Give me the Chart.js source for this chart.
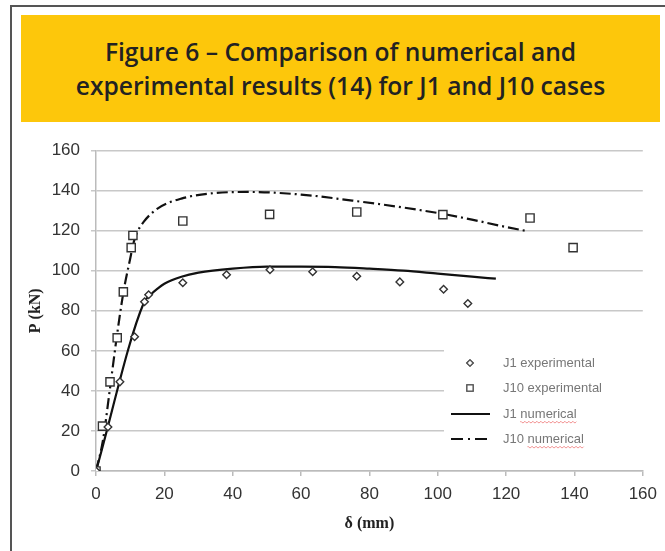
<!DOCTYPE html>
<html>
<head>
<meta charset="utf-8">
<script src="https://cdn.jsdelivr.net/npm/chart.js@4.4.1/dist/chart.umd.min.js"></script>
<style>
  html, body { margin:0; padding:0; background:#fff; width:665px; height:551px; overflow:hidden; }
  #frame { position:absolute; left:10px; top:5px; width:700px; height:600px; border-left:2px solid #555; border-top:2px solid #555; }
  #title { position:absolute; left:21px; top:15px; width:639px; height:107px; background:#FDC70B;
           display:flex; align-items:center; justify-content:center; text-align:center;
           font-family:"Open Sans", sans-serif; font-weight:600; font-size:24.6px; line-height:34px; color:#222; }
  #wrap { position:absolute; left:0; top:0; width:665px; height:551px; }
</style>
</head>
<body>
<div id="frame"></div>
<div id="title">Figure 6 – Comparison of numerical and<br>experimental results (14) for J1 and J10 cases</div>
<div id="wrap"><canvas id="c" width="665" height="551"></canvas></div>
<script>
// ---- data ----
const xTicks = [0, 20, 40, 60, 80, 100, 120, 140, 160];
const yTicks = [0, 20, 40, 60, 80, 100, 120, 140, 160];

const j1ExpX = [0, 3.5, 7, 11.3, 14.2, 15.4, 25.4, 38.2, 50.9, 63.4, 76.3, 88.9, 101.7, 108.8];
const j1ExpY = [0, 22, 44.5, 67, 84.5, 88, 94, 98, 100.5, 99.5, 97.2, 94.4, 90.7, 83.6];

const j10ExpX = [0, 1.9, 4.1, 6.2, 8, 10.3, 10.8, 25.4, 50.8, 76.3, 101.5, 127, 139.6];
const j10ExpY = [0, 22.4, 44.5, 66.5, 89.4, 111.5, 117.6, 124.8, 128.1, 129.3, 128, 126.3, 111.5];

const j1NumX = [0, 14, 16, 18, 20, 25, 30, 40, 50, 60, 70, 80, 90, 100, 110, 117];
const j1NumY = [0, 84, 88, 91, 93.5, 97, 99, 101, 102, 102, 101.8, 101, 100, 98.5, 97, 96];

const j10NumX = [0, 2, 4, 6, 8, 10, 11, 12, 14, 18, 25, 35, 45, 60, 75, 90, 101, 110, 118, 126];
const j10NumY = [0, 15, 40, 66, 89, 106, 114, 119, 124.5, 131, 136, 138.8, 139.3, 138, 135, 131.5, 128.5, 125.5, 122.5, 119.8];

const seriesNames = ['J1 experimental', 'J10 experimental', 'J1 numerical', 'J10 numerical'];

function pts(xs, ys) { return xs.map((x, i) => ({ x: x, y: ys[i] })); }

const DASHDOT = [11, 4, 2, 4];

const legendPlugin = {
  id: 'inLegend',
  afterDraw(chart) {
    const ctx = chart.ctx;
    ctx.save();
    // white box covering grid lines
    ctx.fillStyle = '#fff';
    ctx.fillRect(444, 349, 200, 102);
    const rows = [363, 388, 414, 439];
    ctx.font = '13px "Liberation Sans", Arial, sans-serif';
    ctx.textBaseline = 'middle';
    ctx.textAlign = 'left';
    const ds = chart.data.datasets;
    rows.forEach((ry, i) => {
      const d = ds[i];
      if (i < 2) {
        ctx.lineWidth = 1.3; ctx.strokeStyle = '#555'; ctx.fillStyle = '#fff';
        ctx.beginPath();
        Chart.helpers.drawPoint(ctx, { pointStyle: d.pointStyle, radius: i === 0 ? 3.2 : 4.4, rotation: 0, borderWidth: 1.3 }, 470, ry);
        ctx.fill(); ctx.stroke();
      } else {
        ctx.strokeStyle = '#111'; ctx.lineWidth = 2;
        ctx.setLineDash(i === 3 ? [12, 5, 2, 5] : []);
        ctx.beginPath(); ctx.moveTo(451, ry); ctx.lineTo(490, ry); ctx.stroke();
        ctx.setLineDash([]);
      }
      ctx.fillStyle = '#777';
      ctx.fillText(seriesNames[i], 503, ry);
      if (i >= 2) {
        // spell-check squiggle under "numerical"
        const pre = ctx.measureText(seriesNames[i].split(' ')[0] + ' ').width;
        const w = ctx.measureText('numerical').width;
        ctx.strokeStyle = '#f08080'; ctx.lineWidth = 1;
        ctx.beginPath();
        for (let x = 0; x <= w; x += 1) {
          const yy = ry + 8 + (Math.floor(x / 2) % 2 ? 0.7 : -0.3);
          if (x === 0) ctx.moveTo(503 + pre + x, yy); else ctx.lineTo(503 + pre + x, yy);
        }
        ctx.stroke();
      }
    });
    ctx.restore();
  }
};

const ctx = document.getElementById('c').getContext('2d');
new Chart(ctx, {
  type: 'scatter',
  data: {
    datasets: [
      { label: seriesNames[0], data: pts(j1ExpX, j1ExpY), pointStyle: 'rectRot', pointRadius: 3.8,
        pointBorderWidth: 1.4, pointBorderColor: '#333', pointBackgroundColor: '#fff', showLine: false, order: 1 },
      { label: seriesNames[1], data: pts(j10ExpX, j10ExpY), pointStyle: 'rect', pointRadius: 5.8,
        pointBorderWidth: 1.4, pointBorderColor: '#333', pointBackgroundColor: '#fff', showLine: false, order: 1 },
      { label: seriesNames[2], data: pts(j1NumX, j1NumY), showLine: true, pointRadius: 0,
        borderColor: '#111', borderWidth: 2.2, cubicInterpolationMode: 'monotone', order: 2 },
      { label: seriesNames[3], data: pts(j10NumX, j10NumY), showLine: true, pointRadius: 0,
        borderColor: '#111', borderWidth: 2.2, borderDash: DASHDOT, cubicInterpolationMode: 'monotone', order: 2 }
    ]
  },
  options: {
    responsive: false,
    animation: false,
    devicePixelRatio: 1,
    layout: { padding: { left: 20, top: 150.5, right: 12.8, bottom: 18 } },
    plugins: { legend: { display: false }, tooltip: { enabled: false } },
    scales: {
      x: {
        type: 'linear', min: 0, max: 160,
        afterBuildTicks(s) { s.ticks = xTicks.map(v => ({ value: v })); },
        afterFit(s) { s.height = 62; },
        ticks: { padding: 8, color: '#333', font: { family: '"Liberation Sans", Arial, sans-serif', size: 17 } },
        grid: { drawOnChartArea: false, drawTicks: true, tickLength: 5, color: '#bbb', lineWidth: 1.5 },
        border: { display: true, color: '#bbb', width: 1.5 },
        title: { display: true, text: 'δ (mm)', color: '#222', padding: { top: 0, bottom: 0 },
                 font: { family: '"Liberation Serif", "Times New Roman", serif', size: 16, weight: 'bold' } }
      },
      y: {
        type: 'linear', min: 0, max: 160,
        afterBuildTicks(s) { s.ticks = yTicks.map(v => ({ value: v })); },
        afterFit(s) { s.width = 76; },
        ticks: { padding: 11, color: '#333', font: { family: '"Liberation Sans", Arial, sans-serif', size: 17 } },
        grid: { drawTicks: true, tickLength: 5, color: '#c8c8c8', lineWidth: 1.5 },
        border: { display: true, color: '#bbb', width: 1.5 },
        title: { display: true, text: 'P (kN)', color: '#222', padding: { top: 6, bottom: 0 },
                 font: { family: '"Liberation Serif", "Times New Roman", serif', size: 16, weight: 'bold' } }
      }
    }
  },
  plugins: [legendPlugin]
});
</script>
</body>
</html>
